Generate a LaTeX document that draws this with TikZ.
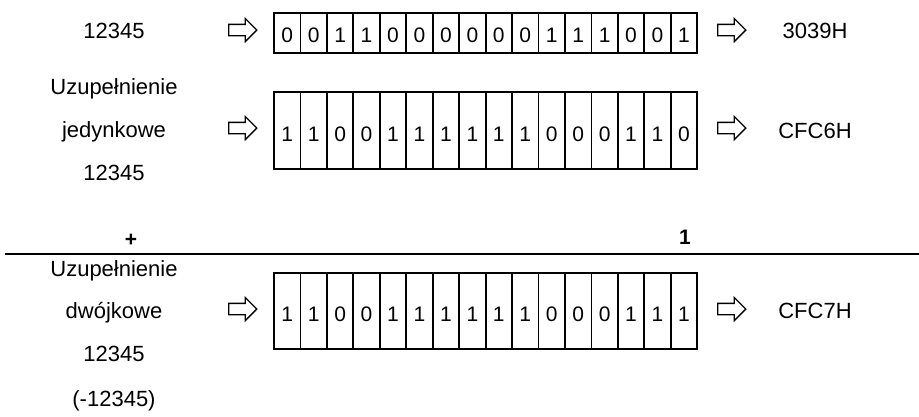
\documentclass[tikz,border=0pt]{standalone}
\usepackage{fontspec}
\setmainfont{Liberation Sans}
\usetikzlibrary{shapes.arrows}
\begin{document}
\begin{tikzpicture}[x=1pt,y=-1pt,
  lbl/.style={font=\fontsize{22}{22}\selectfont, inner sep=0pt, anchor=base},
  bitcell/.style={draw, line width=1.8pt, minimum width=26.45pt, minimum height=#1, inner sep=0pt},
  bit/.style={font=\fontsize{21}{21}\selectfont, inner sep=0pt, anchor=base},
  hollowarrow/.style={single arrow, draw, line width=1.3pt, minimum height=28pt, inner sep=5pt,
     single arrow head extend=6pt},
  sumline/.style={line width=1.5pt}]
\useasboundingbox (0,0) rectangle (919,416);
% row 1
\foreach \b [count=\i] in {0,0,1,1,0,0,0,0,0,0,1,1,1,0,0,1}{
  \node[bitcell=40pt] (a\i) at ({274+26.45*(\i-0.5)},33) {};
  \node[bit] (ad\i) at ({274+26.45*(\i-0.5)},42) {\b};}
\node[lbl] (t1) at (114,38) {12345};
\node[hollowarrow] (p1) at (240,30) {};
\node[hollowarrow] (q1) at (729,30) {};
\node[lbl] (h1) at (815,38) {3039H};
% row 2
\foreach \b [count=\i] in {1,1,0,0,1,1,1,1,1,1,0,0,0,1,1,0}{
  \node[bitcell=77pt] (b\i) at ({274+26.45*(\i-0.5)},130.5) {};
  \node[bit] (bd\i) at ({274+26.45*(\i-0.5)},141) {\b};}
\node[lbl] (t2a) at (114,94) {Uzupełnienie};
\node[lbl] (t2b) at (114,137) {jedynkowe};
\node[lbl] (t2c) at (114,180) {12345};
\node[hollowarrow] (p2) at (240,128) {};
\node[hollowarrow] (q2) at (729,128) {};
\node[lbl] (h2) at (815,138) {CFC6H};
% sum
\node[lbl, font=\bfseries\fontsize{21}{21}\selectfont] (plus) at (131,246) {+};
\node[lbl, font=\bfseries\fontsize{21}{21}\selectfont] (one) at (685,244) {1};
\coordinate (l0) at (5,254);
\coordinate (l1) at (919,254);
\draw[sumline] (l0) -- (l1);
% row 3
\foreach \b [count=\i] in {1,1,0,0,1,1,1,1,1,1,0,0,0,1,1,1}{
  \node[bitcell=76pt] (c\i) at ({274+26.45*(\i-0.5)},311) {};
  \node[bit] (cd\i) at ({274+26.45*(\i-0.5)},321.5) {\b};}
\node[lbl] (t3a) at (114,276) {Uzupełnienie};
\node[lbl] (t3b) at (114,318) {dwójkowe};
\node[lbl] (t3c) at (114,361) {12345};
\node[lbl] (t3d) at (114,406) {(-12345)};
\node[hollowarrow] (p3) at (240,309) {};
\node[hollowarrow] (q3) at (729,309) {};
\node[lbl] (h3) at (815,318) {CFC7H};
\end{tikzpicture}
\end{document}
